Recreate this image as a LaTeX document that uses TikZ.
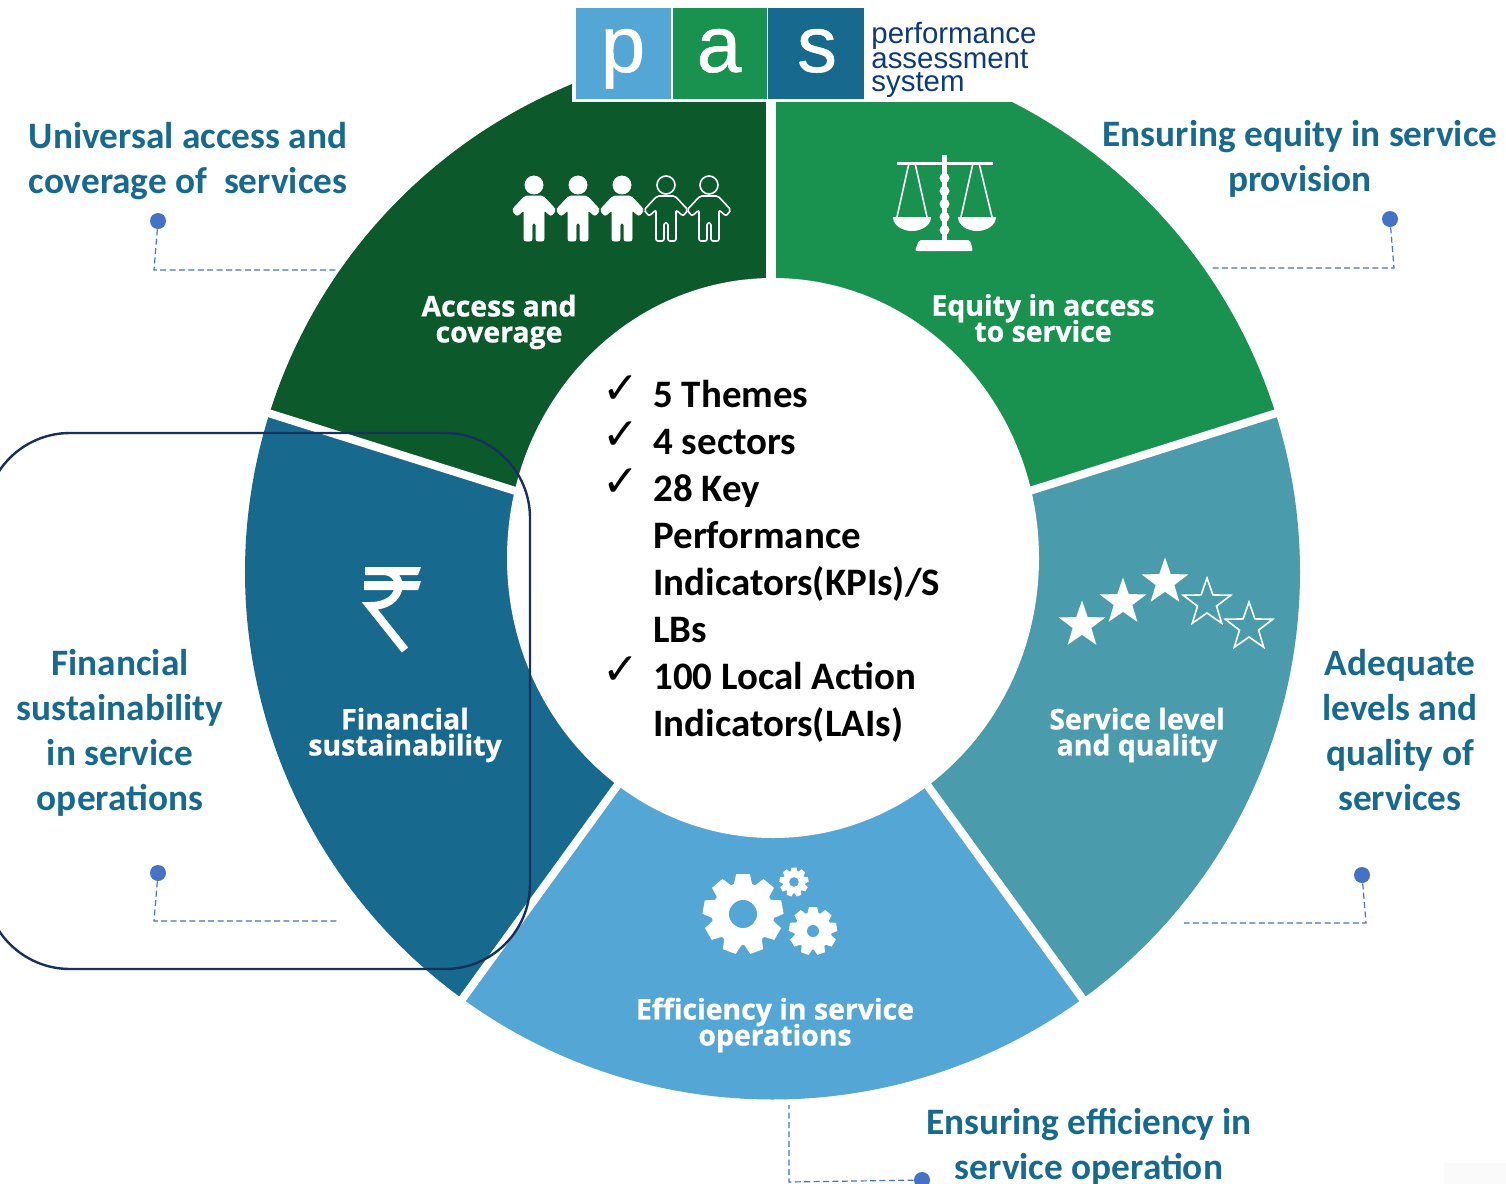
\documentclass[tikz,border=0pt]{standalone}
\usepackage{fontspec}
\usetikzlibrary{shapes.geometric}
\setmainfont{Carlito}
\newfontfamily\logofont{Liberation Sans}
\newfontfamily\logoheavy{Liberation Sans}[FakeBold=0.6]
\newfontfamily\wheelfont{Open Sans}[BoldFeatures={FakeBold=0.8}]
\newfontfamily\tickfont{DejaVu Sans}
\definecolor{accessgreen}{HTML}{0C5A2C}
\definecolor{equitygreen}{HTML}{18924E}
\definecolor{qualityteal}{HTML}{4A9BAB}
\definecolor{efficiencyblue}{HTML}{54A6D5}
\definecolor{financeblue}{HTML}{176A8E}
\definecolor{logonavy}{HTML}{0E3A7C}
\definecolor{framenavy}{HTML}{17305C}
\definecolor{leaderblue}{HTML}{4472C4}
\tikzset{
  callout/.style={align=center, text=financeblue, font={\fontsize{18.65}{22.5}\selectfont\bfseries}},
  wheellabel/.style={align=center, text=white, font={\wheelfont\fontsize{14.2}{13}\selectfont\bfseries\lineskiplimit=-20pt}},
  dotmark/.style={circle, fill=leaderblue, minimum size=8pt, inner sep=0pt},
  leader/.style={leaderblue, line width=0.6pt, dash pattern=on 3pt off 1.7pt},
  gapline/.style={white, line width=4pt},
  logoletter/.style={anchor=base, text=white, inner sep=0pt, font={\logoheavy\fontsize{40}{40}\selectfont}},
  logoword/.style={anchor=base west, text=logonavy, inner sep=0pt, font={\logofont\fontsize{14.7}{14.7}\selectfont}},
  fullstar/.style={star, star points=5, star point ratio=2.5, fill=white, minimum size=24.5pt, inner sep=0pt},
  hollowstar/.style={star, star points=5, star point ratio=2.5, draw=white, line width=0.8pt, minimum size=25pt, inner sep=0pt},
  tick/.style={font={\tickfont\fontsize{22}{22}\selectfont}, inner sep=0pt},
  personfig/.pic={
    \path[pic actions] (0,0) circle (9);
    \path[pic actions, rounded corners=1pt] (-9,-11) -- (9,-11) -- (22,-25) -- (17,-31) -- (10,-25) -- (10,-56) -- (2,-56) -- (2,-38) -- (-2,-38) -- (-2,-56) -- (-10,-56) -- (-10,-25) -- (-17,-31) -- (-22,-25) -- cycle;
  },
  gearwheel/.pic={
    \fill[white] (0,0) circle (0.78);
    \foreach \a in {0,40,...,320}
      \fill[white, rotate=\a] (-0.24,0.7) -- (-0.17,1) -- (0.17,1) -- (0.24,0.7) -- cycle;
    \fill[efficiencyblue] (0,0) circle (#1);
  }
}
\begin{document}
\begin{tikzpicture}[x=0.5pt, y=0.5pt]
  \useasboundingbox (0,0) rectangle (1506,-1184);
  \clip (0,0) rectangle (1506,-1184);
  \fill[white] (0,0) rectangle (1506,-1184);
  \fill[black!2] (1444,-1163) rectangle (1506,-1184);
  % wheel
  \begin{scope}[shift={(772.5,-572)}]
    \fill[equitygreen] (0,0) -- (90:527.5) arc[start angle=90, end angle=17.5, radius=527.5] -- cycle;
    \fill[qualityteal] (0,0) -- (17.5:527.5) arc[start angle=17.5, end angle=-54, radius=527.5] -- cycle;
    \fill[efficiencyblue] (0,0) -- (-54:527.5) arc[start angle=-54, end angle=-126, radius=527.5] -- cycle;
    \fill[financeblue] (0,0) -- (-126:527.5) arc[start angle=-126, end angle=-197.5, radius=527.5] -- cycle;
    \fill[accessgreen] (0,0) -- (162.5:527.5) arc[start angle=162.5, end angle=90, radius=527.5] -- cycle;
    \draw[gapline, line width=5pt] (-1.5,0) -- (-1.5,540);
    \draw[gapline] (0,0) -- (17.5:540);
    \draw[gapline] (0,0) -- (-54:540);
    \draw[gapline] (0,0) -- (-126:540);
    \draw[gapline] (0,0) -- (162.5:540);
  \end{scope}
  \fill[white] (773,-558) ellipse [x radius=266, y radius=280];
  % logo
  \fill[white] (572,0) rectangle (1040,-102);
  \fill[efficiencyblue] (575.5,-8) rectangle (671,-98.5);
  \fill[equitygreen] (672.5,-8) rectangle (767,-98.5);
  \fill[financeblue] (768,-8) rectangle (864,-98.5);
  \node[logoletter] (letterP) at (623,-72) {p};
  \node[logoletter] (letterA) at (719,-72) {a};
  \node[logoletter] (letterS) at (817,-72) {s};
  \node[logoword] (wordPerformance) at (871,-43) {performance};
  \node[logoword] (wordAssessment) at (871,-68) {assessment};
  \node[logoword] (wordSystem) at (871,-91) {system};
  % wheel labels
  \node[wheellabel] (labelAccess) at (499,-322) {Access and\\coverage};
  \node[wheellabel] (labelEquity) at (1043,-318) {Equity in access\\to service};
  \node[wheellabel] (labelQuality) at (1137,-735) {Service level\\and quality};
  \node[wheellabel] (labelEfficiency) at (775,-1025) {Efficiency in service\\operations};
  \node[wheellabel] (labelFinance) at (405,-735) {Financial\\sustainability};
  % people
  \pic[fill=white, draw=white] at (534,-185) {personfig};
  \pic[fill=white, draw=white] at (578,-185) {personfig};
  \pic[fill=white, draw=white] at (622,-185) {personfig};
  \pic[draw=white, line width=0.8pt] at (666,-185) {personfig};
  \pic[draw=white, line width=0.8pt] at (709,-185) {personfig};
  % scales
  \draw[white, line width=1.5pt] (897,-163) -- (993,-163);
  \draw[white, line width=2.5pt] (944.5,-155) -- (944.5,-242);
  \foreach \y in {178,191,204,217,230}
    \fill[white] (944.5,-\y) circle (5);
  \fill[white, rounded corners=1pt] (915,-251) -- (919,-240) -- (970,-240) -- (973,-251) -- cycle;
  \draw[white, line width=0.8pt] (909,-163) -- (897,-217) (915,-163) -- (927,-217);
  \draw[white, line width=0.8pt] (973,-163) -- (961,-217) (979,-163) -- (992,-217);
  \fill[white] (893,-217) -- (931,-217) arc[start angle=0, end angle=-180, x radius=19, y radius=14] -- cycle;
  \fill[white] (958,-217) -- (996,-217) arc[start angle=0, end angle=-180, x radius=19, y radius=14] -- cycle;
  % stars
  \node[fullstar] (starA) at (1082,-625) {};
  \node[fullstar] (starB) at (1123,-602) {};
  \node[fullstar] (starC) at (1165,-582) {};
  \node[hollowstar] (starD) at (1207,-603) {};
  \node[hollowstar] (starE) at (1249,-627) {};
  % gears
  \pic[scale=40] at (743,-914) {gearwheel=0.35};
  \pic[scale=14.5] at (794,-882) {gearwheel=0.33};
  \pic[scale=24] at (813,-931) {gearwheel=0.25};
  % rupee
  \fill[white] (365,-567) -- (421,-567) -- (418,-575) -- (365,-575) -- cycle;
  \fill[white] (364,-581) -- (421,-581) -- (418,-590) -- (364,-590) -- cycle;
  \draw[white, line width=4pt] (385,-571) .. controls (405,-573) and (405,-606) .. (370,-606) -- (405,-650);
  % centre list
  \node[tick] (tickA) at (621,-390) {✓};
  \node[tick] (tickB) at (621,-436) {✓};
  \node[tick] (tickC) at (621,-483) {✓};
  \node[tick] (tickD) at (621,-671) {✓};
  \node[anchor=west, align=left, inner sep=0pt, font={\fontsize{19.45}{23.5}\selectfont\bfseries}] (themes) at (653,-561) {5 Themes\\4 sectors\\28 Key\\Performance\\Indicators(KPIs)/S\\LBs\\100 Local Action\\Indicators(LAIs)};
  % callouts
  \node[callout] (calloutAccess) at (188,-161) {Universal access and\\coverage of~ services};
  \node[callout] (calloutEquity) at (1300,-159) {Ensuring equity in service\\provision};
  \node[callout] (calloutFinance) at (120,-733) {Financial\\sustainability\\in service\\operations};
  \node[callout] (calloutQuality) at (1400,-730) {Adequate\\levels and\\quality of\\services};
  \node[callout] (calloutEfficiency) at (1089,-1147) {Ensuring efficiency in\\service operation};
  % first leader
  \node[dotmark] (dotAccess) at (158,-221) {};
  \coordinate (bendAccess) at (154,-270);
  \coordinate (endAccess) at (338,-270);
  \draw[leader] (dotAccess) -- (bendAccess) -- (endAccess);
  % second leader
  \node[dotmark] (dotEquity) at (1390,-219) {};
  \coordinate (bendEquity) at (1394,-268);
  \coordinate (endEquity) at (1212,-268);
  \draw[leader] (dotEquity) -- (bendEquity) -- (endEquity);
  % third leader
  \node[dotmark] (dotFinance) at (158,-873) {};
  \coordinate (bendFinance) at (154,-921);
  \coordinate (endFinance) at (338,-921);
  \draw[leader] (dotFinance) -- (bendFinance) -- (endFinance);
  % fourth leader
  \node[dotmark] (dotQuality) at (1362,-875) {};
  \coordinate (bendQuality) at (1366,-923);
  \coordinate (endQuality) at (1184,-923);
  \draw[leader] (dotQuality) -- (bendQuality) -- (endQuality);
  % fifth leader
  \node[dotmark] (dotEfficiency) at (922,-1180) {};
  \coordinate (bendEfficiency) at (789,-1182);
  \coordinate (endEfficiency) at (789,-1105);
  \draw[leader] (dotEfficiency) -- (bendEfficiency) -- (endEfficiency);
  % frame
  \draw[framenavy, line width=1.2pt, rounded corners=42.5pt] (-15,-433) rectangle (530,-969);
\end{tikzpicture}
\end{document}
